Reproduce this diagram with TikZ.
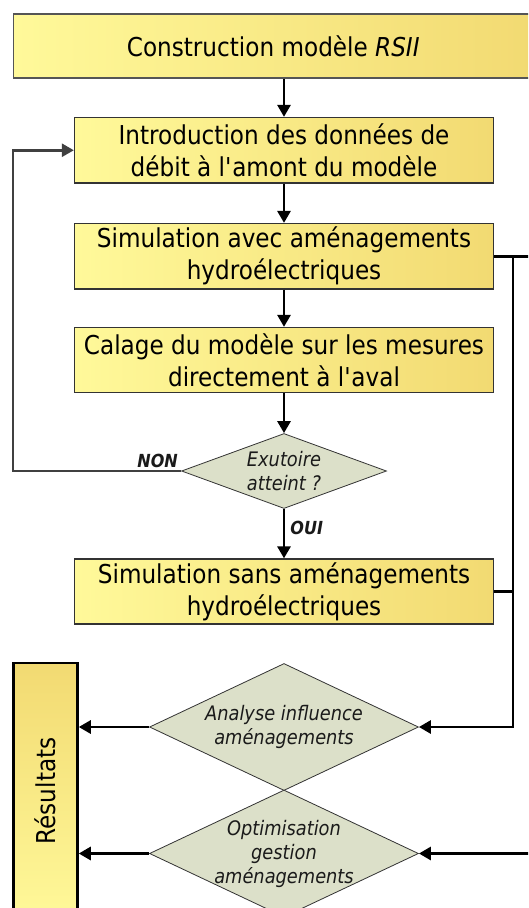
\documentclass[tikz,border=0pt]{standalone}
\usepackage{fontspec}
\setmainfont[FakeStretch=0.89]{DejaVu Sans}
\usetikzlibrary{shapes.geometric,arrows.meta}
\definecolor{yL}{HTML}{FFF99A}
\definecolor{yM}{HTML}{FCF18C}
\definecolor{yD}{HTML}{F2DA72}
\definecolor{dg}{HTML}{DCE0C9}
\definecolor{bd}{HTML}{333333}
\definecolor{bdtop}{HTML}{555555}
\definecolor{loopc}{HTML}{404040}
\definecolor{txt}{HTML}{1A1A1A}
\begin{document}
\begin{tikzpicture}[x=1pt,y=-1pt,
  box/.style={draw=bd, line width=1.3pt, left color=yL, middle color=yM, right color=yD,
    minimum width=419pt, minimum height=65.5pt, inner sep=0pt, align=center,
    font=\fontsize{26}{32}\selectfont},
  dia/.style={diamond, draw=bd, line width=0.8pt, fill=dg, inner sep=0pt},
  dtext/.style={align=center, font=\fontsize{20}{24}\selectfont\itshape, text=txt, inner sep=0pt},
  arr/.style={line width=2.8pt, -{Triangle[length=12pt,width=13pt]}},
  ln/.style={line width=2.8pt},
  loopln/.style={draw=loopc, line width=2.5pt, -{Triangle[length=12pt,width=13pt]}},
  lab/.style={font=\fontsize{18}{20}\selectfont\bfseries\itshape, text=txt, inner sep=2pt}]
\useasboundingbox (0,0) rectangle (528,908);
\clip (0,0) rectangle (528,908);

\node[box, draw=bdtop, minimum width=519.5pt, minimum height=64pt] (c) at (273.25,46) {Construction modèle \textit{RSII}};
\node[box] (intro) at (284,150.25) {Introduction des données de\\débit à l\textquotesingle amont du modèle};
\node[box] (avec) at (284,256.3) {Simulation avec aménagements\\hydroélectriques};
\node[box, minimum height=65pt] (cal) at (284,360) {Calage du modèle sur les mesures\\directement à l\textquotesingle aval};
\node[dia, minimum width=205pt, minimum height=75pt] (exu) at (284,471) {};
\node[dtext] (exut) at (exu) {Exutoire\\atteint ?};
\node[box, minimum height=65pt] (sans) at (284,591.5) {Simulation sans aménagements\\hydroélectriques};
\node[dia, minimum width=269pt, minimum height=127pt] (ana) at (284,727) {};
\node[dtext] (anat) at (ana) {Analyse influence\\aménagements};
\node[dia, minimum width=269pt, minimum height=127pt] (opt) at (284,853.5) {};
\node[dtext] (optt) at (opt) {Optimisation\\gestion\\aménagements};
\node[draw=black, line width=2.5pt, top color=yD, middle color=yM, bottom color=yL, minimum width=64pt, minimum height=262pt, inner sep=0pt] (res) at (45.5,794) {};
\node[rotate=90, font=\fontsize{26}{32}\selectfont, inner sep=0pt] (rest) at (45.5,791) {Résultats};

\coordinate (L) at (13,0);
\coordinate (R) at (513,0);
\coordinate (E) at (530,0);

\draw[arr] (intro.north |- c.south) -- (intro.north);
\draw[arr] (intro) -- (avec);
\draw[arr] (avec) -- (cal);
\draw[arr] (cal) -- (exu.north);
\draw[arr] (exu.south) -- node[lab, right=3pt, pos=0.38] {OUI} (sans.north);
\draw[loopln] (exu.west) -- node[lab, above, pos=0.14] {NON} (exu.west -| L) |- (intro.west);

\draw[ln] (avec.east) -- (avec.east -| E);
\draw[arr] (avec.east -| R) |- (ana.east);
\draw[ln] (sans.east) -- (sans.east -| R);
\draw[arr] (opt.east -| E) -- (opt.east);
\draw[arr] (ana.west) -- (ana.west -| res.east);
\draw[arr] (opt.west) -- (opt.west -| res.east);
\end{tikzpicture}
\end{document}
